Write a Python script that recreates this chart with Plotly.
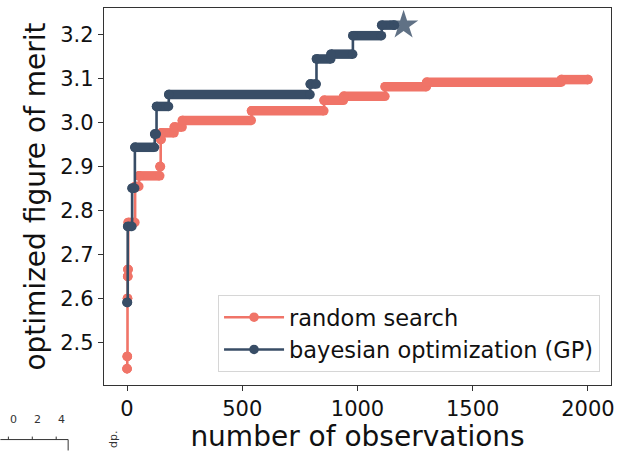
import plotly.graph_objects as go

# ---- data ----
# random search: observation index at which best-so-far improves, and new best value
rs_x = [0, 1, 2, 3, 4, 5, 35, 52, 143, 146, 149, 205, 240, 540, 855, 940, 1120, 1300, 1885]
rs_y = [2.440, 2.468, 2.600, 2.650, 2.666, 2.773, 2.855, 2.879, 2.900, 2.962, 2.977,
        2.990, 3.005, 3.027, 3.051, 3.060, 3.082, 3.092, 3.098]
rs_last = 2000

# bayesian optimization (GP)
gp_x = [0, 3, 22, 34, 120, 128, 181, 795, 822, 885, 980, 1105]
gp_y = [2.591, 2.764, 2.851, 2.944, 2.974, 3.037, 3.064, 3.088, 3.145, 3.156, 3.198, 3.222]
gp_last = 1160

best_x = [1200]
best_y = [3.222]

x_ticks = [0, 500, 1000, 1500, 2000]
y_ticks = [2.5, 2.6, 2.7, 2.8, 2.9, 3.0, 3.1, 3.2]

RED = "#F07468"
BLUE = "#384D66"
FONT = "DejaVu Sans"

W, H = 622, 453
L, R, T, B = 104, 9, 7, 66
PW, PH = W - L - R, H - T - B


def px_x(p):
    return (p - L) / PW


def px_y(p):
    return (H - B - p) / PH


def plateaus(xs, ys, last):
    sx, sy = [], []
    for i, (x0, v) in enumerate(zip(xs, ys)):
        x1 = xs[i + 1] - 1 if i + 1 < len(xs) else last
        sx += [x0, max(x0, x1), None]
        sy += [v, v, None]
    return sx, sy


fig = go.Figure()

for xs, ys, last, col, name in [
    (rs_x, rs_y, rs_last, RED, "random search"),
    (gp_x, gp_y, gp_last, BLUE, "bayesian optimization (GP)"),
]:
    # thin step line (vertical connectors) + legend entry
    fig.add_trace(go.Scatter(
        x=xs + [last], y=ys + [ys[-1]], mode="lines+markers", name=name,
        line=dict(color=col, width=2.6, shape="hv"),
        marker=dict(color=col, size=9.5), cliponaxis=False,
    ))
    # thick plateaus where markers overlap densely
    sx, sy = plateaus(xs, ys, last)
    fig.add_trace(go.Scatter(
        x=sx, y=sy, mode="lines+markers", showlegend=False,
        line=dict(color=col, width=9.5), marker=dict(color=col, size=9.5),
        connectgaps=False, hoverinfo="skip",
    ))

fig.add_trace(go.Scatter(
    x=best_x, y=best_y, mode="markers", showlegend=False,
    marker=dict(symbol="star", size=22, color=BLUE, opacity=0.8,
                line=dict(width=0)),
    cliponaxis=False,
))

axis_common = dict(
    showgrid=False, zeroline=False, showline=True, linecolor="#333333",
    linewidth=1.3, mirror=True, ticks="outside", ticklen=5, tickwidth=1.2,
    tickcolor="#333333", tickfont=dict(family=FONT, size=21, color="#111111"),
)

fig.update_layout(
    width=W, height=H,
    margin=dict(l=L, r=R, t=T, b=B, pad=0),
    paper_bgcolor="white", plot_bgcolor="white",
    font=dict(family=FONT, color="#111111"),
    xaxis=dict(range=[-100, 2100], tickvals=x_ticks,
               title=dict(text="number of observations",
                          font=dict(family=FONT, size=28), standoff=5),
               **axis_common),
    yaxis=dict(range=[2.403, 3.261], tickvals=y_ticks, tickformat=".1f",
               title=dict(text="optimized figure of merit",
                          font=dict(family=FONT, size=28), standoff=6),
               **axis_common),
    legend=dict(x=px_x(602), xanchor="right", y=px_y(374), yanchor="bottom",
                bgcolor="rgba(255,255,255,0.85)", bordercolor="#d6d6d6",
                borderwidth=1, font=dict(family=FONT, size=22.5, color="#111111"),
                tracegroupgap=0, itemwidth=60),
    showlegend=True,
)

# fragment of a neighbouring figure visible at bottom-left of the crop
frag_ticks = ["0", "2", "4"]
frag_px = [8, 32, 56]
fig.add_shape(type="line", xref="paper", yref="paper",
              x0=px_x(0), x1=px_x(68), y0=px_y(442), y1=px_y(442),
              line=dict(color="#333333", width=1))
fig.add_shape(type="line", xref="paper", yref="paper",
              x0=px_x(68), x1=px_x(68), y0=px_y(442), y1=px_y(453),
              line=dict(color="#333333", width=1))
for lab, p in zip(frag_ticks, frag_px):
    fig.add_shape(type="line", xref="paper", yref="paper",
                  x0=px_x(p), x1=px_x(p), y0=px_y(442), y1=px_y(439),
                  line=dict(color="#333333", width=1))
    fig.add_annotation(text=lab, xref="paper", yref="paper", x=px_x(p),
                       y=px_y(430), showarrow=False,
                       font=dict(family=FONT, size=11, color="#333333"))
fig.add_annotation(text="dp.", xref="paper", yref="paper", x=px_x(114),
                   y=px_y(452), xanchor="center", yanchor="bottom",
                   textangle=-90, showarrow=False,
                   font=dict(family=FONT, size=11, color="#333333"))

fig.write_html("out.html")
